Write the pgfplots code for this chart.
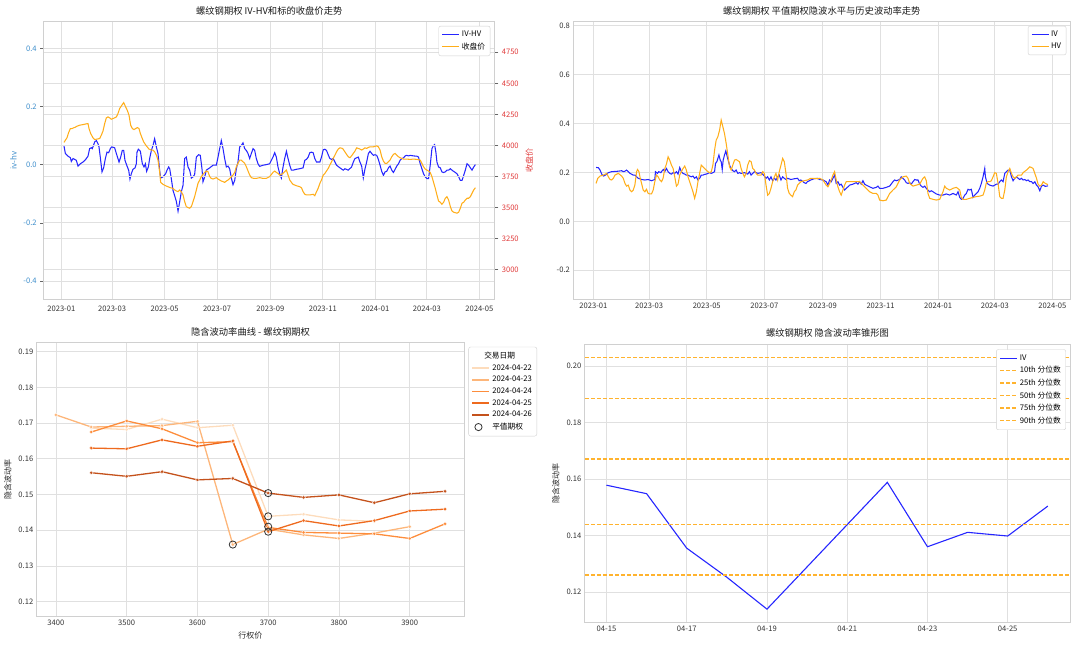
\documentclass[border=0pt]{standalone}
\usepackage{fontspec}
\setmainfont{Noto Sans CJK SC}
\usepackage{pgfplots}
\pgfplotsset{compat=1.18}
\definecolor{gridc}{HTML}{E0E0E0}
\definecolor{framec}{HTML}{D0D0D0}
\definecolor{mblue}{HTML}{2626FF}
\definecolor{morange}{HTML}{FFAE1A}
\definecolor{dorange}{HTML}{FFB32E}
\definecolor{tblue}{HTML}{3C8DCB}
\definecolor{tred}{HTML}{E03A3A}
\definecolor{oA}{HTML}{FDDCBC}
\definecolor{oB}{HTML}{FDB67A}
\definecolor{oC}{HTML}{FD8D3C}
\definecolor{oD}{HTML}{EE6A1E}
\definecolor{oE}{HTML}{C4521C}
\pgfplotsset{
  base/.style={
    scale only axis, anchor=south west,
    axis line style={framec, line width=0.9pt},
    grid=major, major grid style={gridc, line width=0.8pt},
    major tick length=0pt,
    tick label style={font=\fontsize{7.6}{8}\selectfont, text=black!80},
    title style={font=\fontsize{9.3}{10}\selectfont, text=black!90, yshift=-3pt},
    label style={font=\fontsize{8}{9}\selectfont, text=black!85},
    legend style={font=\fontsize{7.7}{8.5}\selectfont, draw=framec, fill=white, rounded corners=2pt, inner sep=3pt, row sep=0.6pt},
    legend cell align=left,
    legend image code/.code={\draw[##1] (0pt,0pt) -- (17pt,0pt);},
  },
}
\begin{document}
\begin{tikzpicture}
\path[use as bounding box] (0pt,0pt) rectangle (1080pt,646pt);
%---------------- top left ----------------
\begin{axis}[base, at={(43.7pt,346.7pt)}, width=451.1pt, height=277.6pt,
  xmin=-20.5, xmax=504, ymin=-0.463, ymax=0.4915,
  xtick={0,59,120,181,243,304,365,425,486},
  xticklabels={2023-01,2023-03,2023-05,2023-07,2023-09,2023-11,2024-01,2024-03,2024-05},
  ytick={-0.4,-0.2,0,0.2,0.4}, yticklabels={-0.4,-0.2,0.0,0.2,0.4},
  yticklabel style={text=tblue},
  tick align=outside, ytick pos=left, xtick pos=bottom, major tick length=3.5pt,
  ytick style={draw=black!60, line width=0.6pt}, xtick style={draw=none},
  ylabel={iv-hv}, ylabel style={text=tblue},
  title={螺纹钢期权 IV-HV和标的收盘价走势}]
\addplot[draw=mblue, line width=1.05pt] coordinates {
(3.1,0.064)(4.7,0.038)(7.8,0.029)(10.5,0.024)(11.6,0.011)(13.6,0.021)(17.4,0.015)(19.4,-0.005)(22.1,0.003)(25.2,0.009)(28.3,0.018)(31.0,0.029)(32.9,0.055)(34.9,0.058)(36.0,0.055)(38.8,0.078)(40.7,0.083)(42.6,0.072)(43.8,0.061)(45.3,0.026)(47.3,-0.025)(49.2,-0.011)(51.2,0.021)(53.1,0.043)(55.0,0.041)(57.0,0.055)(58.5,0.061)(62.0,0.058)(64.0,0.038)(67.1,0.009)(69.0,0.026)(70.9,0.049)(72.5,0.049)(74.0,0.015)(76.4,-0.005)(78.3,-0.019)(79.8,-0.050)(81.4,-0.031)(83.3,-0.016)(85.7,-0.011)(87.2,0.003)(88.0,0.043)(89.5,0.053)(91.9,0.046)(94.2,0.003)(96.1,-0.008)(97.7,0.003)(99.2,-0.023)(101.2,-0.008)(102.7,0.021)(104.7,0.049)(106.6,0.066)(108.5,0.089)(110.5,0.061)(112.4,0.038)(114.3,-0.019)(115.5,-0.046)(118.2,-0.042)(121.3,-0.031)(122.9,-0.019)(124.8,-0.008)(126.0,-0.014)(127.9,-0.048)(129.8,-0.088)(132.2,-0.111)(133.7,-0.126)(135.7,-0.160)(137.6,-0.128)(139.5,-0.094)(141.5,-0.071)(143.4,0.021)(145.3,0.026)(147.3,-0.008)(149.2,-0.019)(151.2,-0.046)(153.1,-0.042)(155.0,-0.034)(157.0,0.026)(159.7,0.034)(161.6,0.032)(163.6,-0.016)(164.7,-0.059)(166.7,-0.042)(168.6,-0.019)(172.5,-0.011)(176.4,-0.002)(180.2,-0.002)(182.2,0.026)(184.1,0.055)(186.0,0.083)(188.0,0.055)(189.9,0.021)(191.9,-0.008)(193.8,-0.005)(195.7,-0.014)(197.7,-0.046)(199.6,-0.069)(201.6,-0.054)(203.5,-0.014)(205.4,0.009)(207.4,0.061)(209.3,0.066)(211.2,0.075)(213.2,0.055)(215.1,0.049)(217.1,0.038)(219.0,0.021)(220.9,0.038)(222.9,0.055)(224.8,0.049)(226.7,0.021)(228.7,0.003)(230.6,-0.006)(234.5,-0.002)
(238.3,0.0)(242.2,0.003)(246.1,0.026)(248.1,0.041)(250.0,0.026)(251.9,-0.008)(253.9,-0.031)(255.8,-0.046)(257.8,-0.008)(259.7,0.021)(261.7,0.046)(263.6,0.021)(265.6,-0.002)(267.5,-0.019)(269.4,-0.019)(273.3,-0.016)(277.2,-0.014)(281.1,-0.011)(283.1,0.015)(285.0,0.018)(287.0,0.026)(288.9,0.041)(290.8,0.043)(292.8,0.041)(294.7,0.021)(296.7,0.009)(298.6,0.009)(300.6,0.009)(302.5,0.026)(304.5,0.051)(306.4,0.053)(308.3,0.049)(310.3,0.034)(312.2,0.021)(314.2,0.018)(316.1,0.021)(320.0,-0.002)(323.9,-0.011)(327.8,-0.019)(329.7,-0.014)(333.6,-0.019)(337.5,-0.008)(339.5,0.009)(341.4,0.021)(345.3,0.026)(347.2,0.009)(349.2,-0.005)(351.1,-0.046)(353.1,-0.014)(355.0,0.009)(357.0,0.038)(358.9,0.046)(360.9,0.038)(362.8,0.032)(364.7,0.034)(366.7,0.032)(368.6,0.018)(370.6,-0.002)(372.5,-0.023)(374.5,-0.037)(376.4,-0.025)(378.3,-0.023)(380.3,-0.011)(382.2,-0.005)(384.2,-0.019)(386.1,-0.027)(388.1,-0.016)(390.0,-0.005)(392.0,0.003)(393.9,0.015)(395.9,0.021)(397.8,0.023)(399.7,0.030)(401.7,0.032)(403.6,0.030)(405.6,0.032)(409.5,0.030)(413.4,0.029)(415.3,0.026)(417.3,0.003)(419.2,-0.014)(421.1,-0.031)(423.1,-0.042)(425.0,-0.048)(427.0,-0.048)(428.9,-0.002)(430.9,0.055)(432.8,0.066)(434.0,0.069)(435.5,0.043)(436.7,0.009)(438.6,-0.008)(440.6,-0.011)(442.5,-0.025)(444.5,-0.027)(446.4,-0.025)(448.3,-0.019)(450.3,-0.019)(452.3,-0.014)(454.2,-0.019)(456.1,-0.023)(458.1,-0.027)(460.0,-0.031)(462.0,-0.042)(463.9,-0.054)(465.9,-0.054)(467.8,-0.037)(469.7,-0.019)(471.7,0.003)(473.6,-0.002)(475.6,-0.011)(477.5,-0.019)(479.5,-0.008)(481.4,0.0)};
\end{axis}
\begin{axis}[base, at={(43.7pt,346.7pt)}, width=451.1pt, height=277.6pt,
  xmin=-20.5, xmax=504, ymin=2762, ymax=4996,
  axis x line=none, axis y line*=right, xmajorgrids=false,
  ytick={3000,3250,3500,3750,4000,4250,4500,4750},
  yticklabels={3000,3250,3500,3750,4000,4250,4500,4750},
  yticklabel style={text=tred}, tick align=outside, major tick length=3.5pt,
  ytick style={draw=black!60, line width=0.6pt},
  ylabel={收盘价}, ylabel style={text=tred},
  legend style={at={(0.99,0.985)}, anchor=north east}]
\addlegendimage{draw=mblue, line width=1.2pt}
\addlegendentry{IV-HV}
\addplot[draw=morange, line width=1.05pt] coordinates {
(3.1,4024)(4.7,4043)(6.6,4062)(8.5,4104)(10.5,4136)(12.4,4136)(14.3,4142)(16.3,4147)(18.2,4155)(21.3,4163)(25.2,4168)(29.1,4174)(31.0,4176)(32.2,4136)(34.1,4096)(36.8,4062)(38.8,4048)(41.5,4051)(44.6,4056)(46.5,4083)(48.4,4115)(50.4,4176)(52.3,4222)(54.3,4230)(56.2,4222)(58.1,4211)(60.1,4217)(62.0,4222)(64.0,4230)(65.9,4257)(67.8,4297)(69.8,4318)(72.5,4345)(74.8,4310)(76.7,4283)(78.7,4243)(80.6,4163)(82.6,4136)(84.5,4128)(86.4,4136)(88.4,4144)(90.3,4136)(91.9,4096)(93.8,4062)(95.7,4029)(98.8,3997)(101.9,3971)(104.7,3963)(106.6,3963)(108.5,3949)(110.5,3922)(112.4,3882)(114.3,3789)(115.5,3703)(118.2,3687)(121.3,3676)(124.0,3668)(126.7,3660)(129.8,3655)(131.8,3642)(133.7,3634)(135.7,3628)(137.6,3642)(139.5,3628)(141.5,3602)(143.4,3548)(145.3,3508)(147.3,3500)(149.2,3495)(151.2,3508)(153.1,3548)(155.0,3588)(157.0,3642)(158.9,3695)(160.9,3722)(162.8,3749)(164.7,3767)(166.7,3783)(168.6,3794)(170.5,3789)(172.5,3749)(174.4,3735)(176.4,3730)(178.3,3735)(180.2,3741)(182.2,3730)(184.1,3722)(186.0,3714)(188.0,3709)(189.9,3703)(191.9,3714)(193.8,3722)(195.7,3735)(197.7,3749)(199.6,3762)(201.6,3783)(203.5,3829)(205.4,3856)(207.4,3882)(209.3,3882)(211.2,3869)(213.2,3856)(215.1,3829)(217.1,3794)(219.0,3762)(220.9,3741)(223.6,3735)(226.7,3735)(230.6,3741)(234.4,3735)
(238.3,3735)(242.2,3749)(246.1,3783)(248.1,3794)(250.0,3783)(251.9,3775)(253.9,3762)(255.8,3767)(257.8,3775)(259.7,3789)(261.7,3802)(263.6,3762)(265.6,3722)(267.5,3703)(269.4,3687)(273.3,3676)(277.2,3668)(279.2,3660)(281.1,3628)(283.1,3607)(285.0,3602)(288.9,3602)(292.8,3607)(294.7,3596)(296.7,3628)(298.6,3655)(300.6,3695)(302.5,3722)(304.5,3762)(306.4,3775)(308.3,3794)(310.3,3815)(312.2,3842)(314.2,3869)(316.1,3896)(318.1,3922)(320.0,3949)(322.0,3971)(323.9,3981)(327.0,3976)(329.7,3949)(331.7,3928)(333.6,3909)(335.6,3901)(337.5,3917)(339.5,3936)(341.4,3955)(343.4,3981)(345.3,3976)(347.2,3971)(349.2,3963)(351.1,3971)(353.1,3981)(355.0,3976)(357.0,3984)(358.9,3989)(362.8,3989)(366.7,3997)(368.6,3989)(370.6,3963)(372.5,3909)(374.5,3874)(376.4,3856)(378.3,3856)(380.3,3869)(382.2,3882)(384.2,3909)(386.1,3928)(388.1,3936)(390.0,3922)(392.0,3909)(393.9,3901)(395.9,3896)(397.8,3890)(401.7,3890)(405.6,3888)(409.5,3890)(413.4,3888)(417.3,3882)(419.2,3856)(421.1,3829)(423.1,3810)(425.0,3802)(427.0,3794)(428.9,3783)(430.9,3749)(432.8,3703)(434.8,3655)(436.7,3602)(438.6,3553)(440.6,3543)(442.5,3527)(444.5,3543)(446.4,3575)(448.3,3588)(450.3,3561)(452.3,3508)(454.2,3473)(456.1,3463)(460.0,3455)(462.0,3463)(463.9,3495)(465.9,3535)(467.8,3543)(469.7,3561)(471.7,3575)(473.6,3575)(475.6,3588)(477.5,3615)(479.5,3642)(481.4,3660)};
\addlegendentry{收盘价}
\end{axis}
%---------------- top right ----------------
\begin{axis}[base, at={(573.4pt,346.7pt)}, width=496.9pt, height=277.6pt,
  xmin=-21.2, xmax=505, ymin=-0.3186, ymax=0.816,
  xtick={0,59,120,181,243,304,365,425,486},
  xticklabels={2023-01,2023-03,2023-05,2023-07,2023-09,2023-11,2024-01,2024-03,2024-05},
  ytick={-0.2,0,0.2,0.4,0.6,0.8}, yticklabels={-0.2,0.0,0.2,0.4,0.6,0.8},
  title={螺纹钢期权 平值期权隐波水平与历史波动率走势},
  legend style={at={(0.992,0.985)}, anchor=north east}]
\addplot[draw=mblue, line width=1.05pt] coordinates {
(2.8,0.2204)(5.3,0.219)(7.0,0.2095)(8.8,0.193)(10.5,0.185)(12.3,0.188)(14.1,0.193)(15.8,0.199)(19.3,0.203)(22.8,0.204)(26.4,0.205)(29.9,0.207)(31.6,0.203)(33.4,0.205)(35.1,0.2095)(36.9,0.203)(38.7,0.196)(40.4,0.193)(42.2,0.189)(43.9,0.189)(45.7,0.182)(47.5,0.176)(51.0,0.171)(54.5,0.169)(58.0,0.171)(61.5,0.166)(65.0,0.171)(65.7,0.203)(67.8,0.196)(69.2,0.203)(71.4,0.199)(72.8,0.207)(74.2,0.212)(75.6,0.203)(77.3,0.216)(79.1,0.203)(80.8,0.196)(82.6,0.193)(84.4,0.199)(86.1,0.196)(87.9,0.203)(89.6,0.193)(91.4,0.220)(93.1,0.203)(94.9,0.196)(96.7,0.193)(98.4,0.189)(100.2,0.189)(101.9,0.185)(103.7,0.182)(105.4,0.185)(107.2,0.176)(109.0,0.182)(110.7,0.169)(112.5,0.176)(114.2,0.189)(116.0,0.189)(117.8,0.192)(119.5,0.193)(121.3,0.196)(123.0,0.199)(124.8,0.196)(126.5,0.199)(128.3,0.203)(129.3,0.237)(130.7,0.244)(131.8,0.257)(132.9,0.271)(134.3,0.250)(135.3,0.244)(136.4,0.212)(137.4,0.250)(138.8,0.271)(140.2,0.288)(141.7,0.264)(143.1,0.244)(144.5,0.226)(145.9,0.216)(147.6,0.207)(149.4,0.203)(151.1,0.2095)(152.9,0.196)(154.7,0.199)(156.4,0.196)(159.9,0.199)(161.7,0.196)(163.4,0.193)(165.2,0.203)(167.0,0.189)(170.5,0.203)(174.0,0.196)(177.5,0.199)(181.0,0.185)(182.8,0.176)(184.5,0.182)(186.3,0.169)(188.0,0.182)(189.8,0.166)(191.6,0.176)(193.3,0.169)(195.1,0.182)(196.8,0.189)(198.6,0.169)(200.4,0.182)(202.1,0.176)(203.9,0.171)(205.6,0.176)(209.1,0.171)(212.7,0.174)(216.2,0.176)(217.9,0.166)(219.7,0.169)(223.2,0.158)(225.0,0.155)(226.7,0.162)(230.2,0.169)(233.7,0.174)(237.3,0.176)
(239.5,0.171)(243.0,0.169)(246.5,0.162)(248.3,0.148)(250.1,0.169)(251.8,0.162)(253.6,0.176)(255.4,0.189)(257.1,0.155)(258.9,0.162)(260.7,0.148)(262.4,0.152)(264.2,0.139)(266.0,0.128)(267.7,0.135)(269.5,0.141)(271.3,0.148)(274.8,0.152)(278.3,0.158)(280.1,0.152)(281.9,0.162)(283.6,0.152)(285.4,0.166)(287.2,0.152)(288.9,0.148)(292.5,0.141)(296.0,0.135)(299.5,0.139)(301.3,0.144)(303.1,0.135)(306.6,0.135)(310.1,0.139)(313.7,0.144)(317.2,0.162)(319.0,0.169)(320.7,0.166)(324.3,0.171)(326.0,0.182)(327.8,0.176)(329.6,0.169)(331.3,0.158)(333.1,0.155)(334.9,0.158)(336.6,0.152)(338.4,0.162)(340.2,0.171)(341.9,0.169)(343.7,0.169)(345.5,0.152)(347.2,0.144)(349.0,0.139)(350.8,0.144)(352.5,0.135)(354.3,0.128)(356.1,0.121)(357.8,0.125)(359.6,0.121)(363.1,0.112)(366.7,0.1075)(370.2,0.1075)(373.7,0.112)(377.3,0.1075)(380.8,0.114)(384.3,0.1075)(386.1,0.121)(387.9,0.098)(389.6,0.090)(391.4,0.094)(393.2,0.1075)(394.9,0.114)(396.7,0.131)(398.5,0.128)(400.2,0.131)(402.0,0.098)(403.8,0.1075)(405.5,0.114)(407.3,0.121)(409.1,0.135)(410.8,0.155)(412.6,0.182)(414.4,0.216)(415.1,0.182)(416.9,0.155)(419.7,0.148)(423.2,0.144)(426.7,0.152)(428.5,0.152)(430.3,0.162)(432.0,0.169)(433.8,0.162)(435.6,0.196)(437.3,0.203)(439.1,0.2095)(440.9,0.2095)(442.7,0.182)(444.4,0.166)(446.2,0.176)(448.0,0.182)(449.7,0.176)(451.5,0.171)(453.3,0.176)(455.0,0.169)(456.8,0.171)(458.6,0.166)(460.3,0.169)(462.1,0.162)(463.9,0.162)(465.6,0.155)(467.4,0.162)(469.2,0.148)(470.9,0.141)(472.7,0.125)(474.5,0.144)(476.3,0.148)(478.5,0.143)(481.4,0.145)};
\addlegendentry{IV}
\addplot[draw=morange, line width=1.05pt] coordinates {
(2.8,0.155)(4.6,0.176)(7.0,0.185)(10.5,0.189)(14.1,0.196)(15.8,0.182)(17.6,0.171)(19.3,0.169)(21.1,0.176)(22.8,0.189)(26.4,0.196)(29.9,0.185)(31.6,0.176)(33.4,0.155)(35.1,0.144)(36.9,0.148)(38.7,0.128)(40.4,0.121)(42.2,0.128)(43.9,0.148)(45.7,0.203)(46.7,0.212)(48.2,0.203)(49.6,0.176)(51.0,0.155)(52.7,0.128)(54.5,0.121)(56.2,0.131)(58.0,0.114)(59.8,0.112)(61.5,0.112)(63.3,0.128)(65.0,0.162)(66.8,0.189)(68.5,0.182)(70.3,0.169)(72.1,0.162)(73.8,0.176)(75.6,0.216)(77.3,0.234)(79.1,0.264)(80.8,0.250)(82.6,0.230)(84.4,0.216)(86.1,0.182)(87.9,0.144)(89.6,0.152)(91.4,0.189)(93.1,0.203)(94.9,0.216)(96.7,0.226)(98.4,0.2095)(100.2,0.182)(101.9,0.162)(103.7,0.141)(105.4,0.121)(107.2,0.094)(109.0,0.121)(110.7,0.162)(112.5,0.196)(114.2,0.230)(116.0,0.223)(117.8,0.216)(119.5,0.2095)(121.3,0.203)(123.0,0.199)(124.8,0.203)(126.5,0.230)(128.3,0.291)(130.0,0.332)(131.8,0.346)(133.6,0.373)(135.3,0.414)(137.1,0.386)(138.8,0.359)(140.6,0.318)(142.4,0.271)(144.1,0.223)(145.9,0.2095)(147.6,0.230)(149.4,0.250)(151.1,0.253)(152.9,0.248)(154.7,0.244)(156.4,0.216)(158.2,0.196)(159.9,0.182)(161.7,0.196)(163.4,0.230)(165.2,0.248)(167.0,0.244)(168.7,0.216)(170.5,0.2095)(172.2,0.196)(174.0,0.189)(177.5,0.189)(179.3,0.203)(181.0,0.196)(182.8,0.148)(184.5,0.107)(186.3,0.114)(188.0,0.135)(189.8,0.162)(191.6,0.182)(193.3,0.196)(195.1,0.169)(196.8,0.203)(198.6,0.230)(200.4,0.257)(202.1,0.244)(203.9,0.196)(205.6,0.135)(207.4,0.114)(209.1,0.107)(210.9,0.101)(212.7,0.121)(214.4,0.128)(216.2,0.148)(219.7,0.162)(223.2,0.166)(226.7,0.169)(230.2,0.176)(233.7,0.176)(237.3,0.174)
(239.5,0.176)(243.0,0.169)(246.5,0.148)(248.3,0.141)(250.1,0.155)(251.8,0.169)(253.6,0.189)(255.4,0.203)(257.1,0.169)(258.9,0.141)(260.7,0.121)(262.4,0.1075)(264.2,0.128)(266.0,0.148)(267.7,0.162)(271.3,0.162)(274.8,0.162)(278.3,0.162)(281.9,0.162)(285.4,0.148)(288.9,0.135)(292.5,0.121)(296.0,0.114)(299.5,0.114)(301.3,0.1075)(303.1,0.087)(306.6,0.084)(310.1,0.087)(313.7,0.114)(317.2,0.128)(320.7,0.141)(324.3,0.169)(327.8,0.182)(331.3,0.185)(333.1,0.176)(334.9,0.155)(338.4,0.144)(341.9,0.148)(345.5,0.152)(349.0,0.176)(350.8,0.182)(352.5,0.166)(354.3,0.114)(356.1,0.094)(359.6,0.090)(363.1,0.087)(366.7,0.090)(370.2,0.121)(372.0,0.144)(373.7,0.135)(377.3,0.128)(380.8,0.135)(384.3,0.139)(387.9,0.128)(389.6,0.098)(391.4,0.090)(394.9,0.090)(398.5,0.094)(402.0,0.098)(405.5,0.101)(409.1,0.103)(412.6,0.1075)(414.4,0.128)(416.1,0.158)(417.9,0.162)(419.7,0.162)(421.4,0.166)(423.2,0.182)(425.0,0.199)(426.7,0.196)(428.5,0.155)(430.3,0.101)(432.0,0.094)(433.8,0.094)(435.6,0.128)(437.3,0.182)(439.1,0.203)(440.9,0.216)(442.7,0.196)(444.4,0.182)(446.2,0.176)(448.0,0.182)(449.7,0.189)(451.5,0.189)(453.3,0.189)(455.0,0.199)(458.6,0.2095)(462.1,0.223)(463.9,0.220)(465.6,0.216)(467.4,0.196)(469.2,0.176)(470.9,0.152)(472.7,0.144)(474.5,0.148)(476.3,0.162)(478.5,0.155)(481.4,0.150)};
\addlegendentry{HV}
\end{axis}
%---------------- bottom left ----------------
\begin{axis}[base, at={(36.8pt,30pt)}, width=427.4pt, height=273.3pt,
  xmin=3373, xmax=3977, ymin=0.116, ymax=0.1925,
  xtick={3400,3500,3600,3700,3800,3900}, xticklabels={3400,3500,3600,3700,3800,3900},
  ytick={0.12,0.13,0.14,0.15,0.16,0.17,0.18,0.19},
  yticklabels={0.12,0.13,0.14,0.15,0.16,0.17,0.18,0.19},
  xlabel={行权价}, ylabel={隐含波动率},
  title={隐含波动率曲线 - 螺纹钢期权},
  legend style={at={(1.01,0.985)}, anchor=north west}]
\addplot[draw=oA, line width=1.3pt, mark=*, mark size=1.9pt, mark options={draw=white, line width=0.3pt, fill=oA}, forget plot] coordinates {
(3450,0.1686)(3500,0.1682)(3550,0.1711)(3600,0.1687)(3650,0.1694)(3700,0.1439)(3750,0.1445)(3800,0.1429)(3850,0.1425)};
\addplot[draw=oB, line width=1.3pt, mark=*, mark size=1.9pt, mark options={draw=white, line width=0.3pt, fill=oB}, forget plot] coordinates {
(3400,0.1723)(3450,0.1689)(3500,0.1691)(3550,0.1693)(3600,0.1705)(3650,0.1360)(3700,0.1403)(3750,0.1387)(3800,0.1377)(3850,0.1392)(3900,0.1410)};
\addplot[draw=oC, line width=1.3pt, mark=*, mark size=1.9pt, mark options={draw=white, line width=0.3pt, fill=oC}, forget plot] coordinates {
(3450,0.1675)(3500,0.1706)(3550,0.1684)(3600,0.1645)(3650,0.1648)(3700,0.1408)(3750,0.1394)(3800,0.1392)(3850,0.1390)(3900,0.1377)(3950,0.1418)};
\addplot[draw=oD, line width=1.3pt, mark=*, mark size=1.9pt, mark options={draw=white, line width=0.3pt, fill=oD}, forget plot] coordinates {
(3450,0.1630)(3500,0.1628)(3550,0.1653)(3600,0.1635)(3650,0.1650)(3700,0.1396)(3750,0.1427)(3800,0.1412)(3850,0.1427)(3900,0.1454)(3950,0.1459)};
\addplot[draw=oE, line width=1.3pt, mark=*, mark size=1.9pt, mark options={draw=white, line width=0.3pt, fill=oE}, forget plot] coordinates {
(3450,0.1561)(3500,0.1551)(3550,0.1564)(3600,0.1541)(3650,0.1545)(3700,0.1504)(3750,0.1492)(3800,0.1499)(3850,0.1477)(3900,0.1502)(3950,0.1509)};
\addplot[only marks, mark=o, mark size=3.6pt, mark options={draw=black!80, line width=0.8pt}, forget plot] coordinates {
(3700,0.1439)(3650,0.1360)(3700,0.1410)(3700,0.1396)(3700,0.1504)};
\addlegendimage{empty legend}\addlegendentry{\hspace*{-8pt}交易日期}
\addlegendimage{draw=oA, line width=1.6pt}\addlegendentry{2024-04-22}
\addlegendimage{draw=oB, line width=1.6pt}\addlegendentry{2024-04-23}
\addlegendimage{draw=oC, line width=1.6pt}\addlegendentry{2024-04-24}
\addlegendimage{draw=oD, line width=1.6pt}\addlegendentry{2024-04-25}
\addlegendimage{draw=oE, line width=1.6pt}\addlegendentry{2024-04-26}
\addlegendimage{legend image code/.code={\draw[draw=black!80, line width=0.8pt] (6pt,0pt) circle (3.6pt);}}\addlegendentry{平值期权}
\end{axis}
%---------------- bottom right ----------------
\begin{axis}[base, at={(584.8pt,23.3pt)}, width=485.5pt, height=278.4pt,
  xmin=14.46, xmax=26.56, ymin=0.1091, ymax=0.2077,
  xtick={15,17,19,21,23,25}, xticklabels={04-15,04-17,04-19,04-21,04-23,04-25},
  ytick={0.12,0.14,0.16,0.18,0.20}, yticklabels={0.12,0.14,0.16,0.18,0.20},
  ylabel={隐含波动率},
  title={螺纹钢期权 隐含波动率锥形图},
  legend style={at={(0.991,0.982)}, anchor=north east}]
\addplot[draw=mblue, line width=1.1pt] coordinates {
(15,0.1578)(16,0.1548)(17,0.1355)(18,0.1252)(19,0.1139)(22,0.1588)(23,0.1360)(24,0.1411)(25,0.1398)(26,0.1504)};
\addlegendentry{IV}
\addplot[draw=dorange, line width=1.4pt, dash pattern=on 4pt off 2pt] coordinates {(14.46,0.1260)(26.56,0.1260)};
\addlegendentry{10th 分位数}
\addplot[draw=dorange, line width=1.4pt, dash pattern=on 4pt off 2pt] coordinates {(14.46,0.1439)(26.56,0.1439)};
\addlegendentry{25th 分位数}
\addplot[draw=dorange, line width=1.4pt, dash pattern=on 4pt off 2pt] coordinates {(14.46,0.1671)(26.56,0.1671)};
\addlegendentry{50th 分位数}
\addplot[draw=dorange, line width=1.4pt, dash pattern=on 4pt off 2pt] coordinates {(14.46,0.1885)(26.56,0.1885)};
\addlegendentry{75th 分位数}
\addplot[draw=dorange, line width=1.4pt, dash pattern=on 4pt off 2pt] coordinates {(14.46,0.2031)(26.56,0.2031)};
\addlegendentry{90th 分位数}
\end{axis}
\end{tikzpicture}
\end{document}
